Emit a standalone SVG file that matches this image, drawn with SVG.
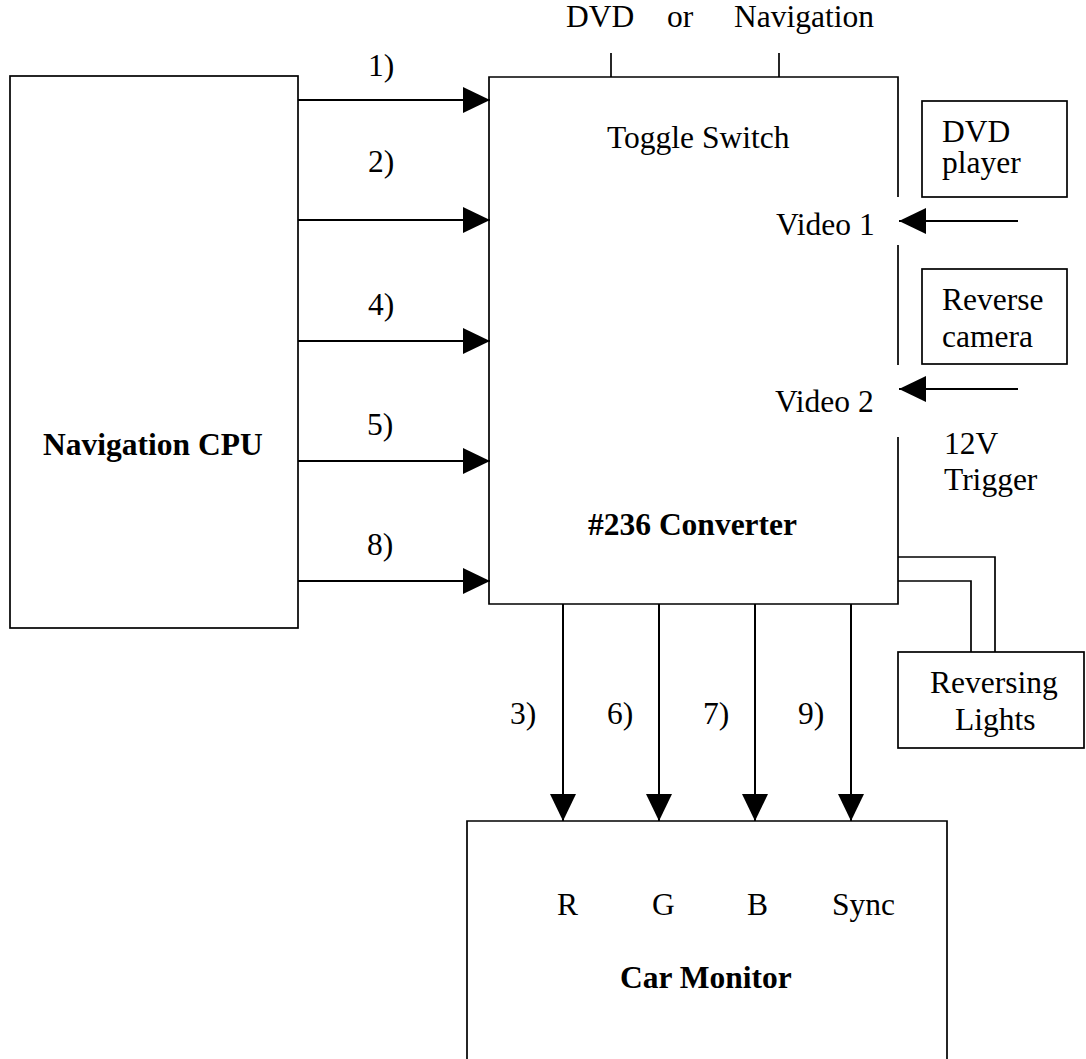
<svg xmlns="http://www.w3.org/2000/svg" width="1086" height="1059" viewBox="0 0 1086 1059">
<style>
text{font-family:"Liberation Serif","Times New Roman",serif;font-size:31.5px;fill:#000}
.b{font-weight:bold}
.box{fill:#fff;stroke:#000;stroke-width:1.7}
.ln{fill:none;stroke:#000;stroke-width:1.7}
.ar{fill:none;stroke:#000;stroke-width:2;marker-end:url(#ah)}
</style>
<defs>
<marker id="ah" markerUnits="userSpaceOnUse" markerWidth="27" markerHeight="26" refX="27" refY="13" orient="auto">
<path d="M0,0 L27,13 L0,26 Z" fill="#000"/>
</marker>
</defs>
<rect width="1086" height="1059" fill="#fff"/>
<g id="nav-cpu">
<rect class="box" x="10" y="76" width="288" height="552"/>
<text class="b" x="43" y="455">Navigation CPU</text>
</g>
<g id="converter">
<rect x="489" y="77" width="409" height="527" fill="#fff"/>
<path class="ln" d="M898,197 V77 H489 V604 H898 V437 M898,365 V245"/>
<text x="607" y="148">Toggle Switch</text>
<text x="776" y="235">Video 1</text>
<text x="775" y="412">Video 2</text>
<text class="b" x="588" y="535">#236 Converter</text>
</g>
<g id="switch-labels">
<text x="566" y="27">DVD</text>
<text x="667" y="27">or</text>
<text x="734" y="27">Navigation</text>
</g>
<g id="dvd-player">
<rect class="box" x="922" y="101" width="145" height="96"/>
<text x="942" y="142">DVD</text>
<text x="942" y="173">player</text>
</g>
<g id="reverse-camera">
<rect class="box" x="922" y="269" width="145" height="95"/>
<text x="942" y="310">Reverse</text>
<text x="942" y="347">camera</text>
</g>
<g id="trigger-label">
<text x="944" y="454">12V</text>
<text x="944" y="490">Trigger</text>
</g>
<g id="reversing-lights">
<rect class="box" x="898" y="652" width="186" height="96"/>
<text x="930" y="693">Reversing</text>
<text x="955" y="730">Lights</text>
</g>
<g id="car-monitor">
<path class="box" d="M467,1065 V821 H947 V1065"/>
<text x="557" y="915">R</text>
<text x="652" y="915">G</text>
<text x="747" y="915">B</text>
<text x="832" y="915">Sync</text>
<text class="b" x="620" y="988">Car Monitor</text>
</g>
<g id="connectors">
<line class="ar" x1="298" y1="100" x2="490" y2="100"/>
<line class="ar" x1="298" y1="220" x2="490" y2="220"/>
<line class="ar" x1="298" y1="341" x2="490" y2="341"/>
<line class="ar" x1="298" y1="461" x2="490" y2="461"/>
<line class="ar" x1="298" y1="581" x2="490" y2="581"/>
<line class="ar" x1="563" y1="604" x2="563" y2="821"/>
<line class="ar" x1="659" y1="604" x2="659" y2="821"/>
<line class="ar" x1="755" y1="604" x2="755" y2="821"/>
<line class="ar" x1="851" y1="604" x2="851" y2="821"/>
<line class="ar" x1="1018" y1="221" x2="899" y2="221"/>
<line class="ar" x1="1018" y1="389" x2="899" y2="389"/>
<line class="ln" x1="611" y1="53" x2="611" y2="77"/>
<line class="ln" x1="779" y1="53" x2="779" y2="77"/>
<path class="ln" d="M898,557 H995 V652"/>
<path class="ln" d="M898,581 H971 V652"/>
<text x="368" y="76">1)</text>
<text x="368" y="172">2)</text>
<text x="368" y="315">4)</text>
<text x="367" y="435">5)</text>
<text x="367" y="555">8)</text>
<text x="510" y="724">3)</text>
<text x="607" y="724">6)</text>
<text x="703" y="724">7)</text>
<text x="798" y="724">9)</text>
</g>
</svg>
